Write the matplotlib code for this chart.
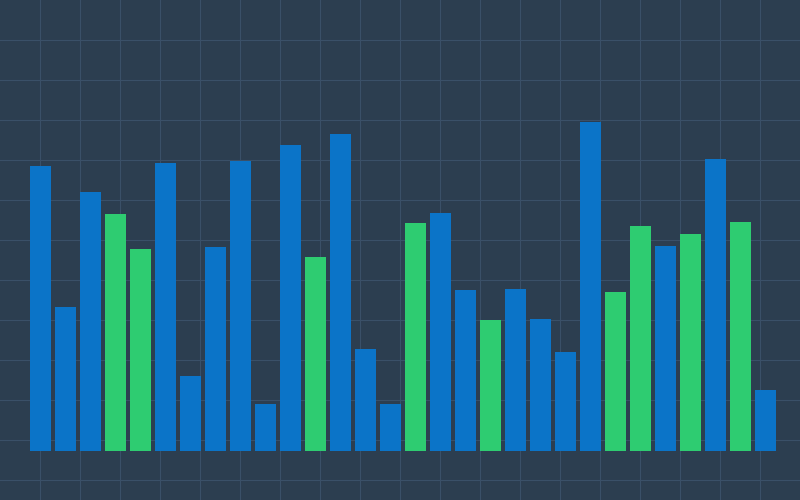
import matplotlib.pyplot as plt
import numpy as np

tops = [166, 307, 192, 214, 249, 163, 376, 247, 161, 404, 145, 257, 134, 349, 404,
        223, 213, 290, 320, 289, 319, 352, 122, 292, 226, 246, 234, 159, 222, 390]
colors = ['b', 'b', 'b', 'g', 'g', 'b', 'b', 'b', 'b', 'b', 'b', 'g', 'b', 'b', 'b',
          'g', 'b', 'b', 'g', 'b', 'b', 'b', 'b', 'g', 'g', 'b', 'g', 'b', 'g', 'b']
values = [451 - t for t in tops]
palette = {'b': '#0b74c8', 'g': '#2ecc71'}

fig = plt.figure(figsize=(8, 5), dpi=100)
fig.patch.set_facecolor('#2c3e50')

# grid layer
g = fig.add_axes([0, 0, 1, 1])
g.set_facecolor('#2c3e50')
g.set_xlim(0, 800)
g.set_ylim(500, 0)
for x in range(40, 800, 40):
    g.axvline(x, color='#3a5068', lw=0.8)
for y in range(40, 500, 40):
    g.axhline(y, color='#3a5068', lw=0.8)
g.axis('off')

ax = fig.add_axes([0, 0, 1, 1])
ax.patch.set_alpha(0)
x = np.arange(len(values))
ax.bar(x, values, width=21 / 25, color=[palette[c] for c in colors])
ax.set_xlim(-40.5 / 25, (800 - 40.5) / 25)
ax.set_ylim(-49, 451)
ax.axis('off')

fig.savefig('out.png', dpi=100, facecolor=fig.get_facecolor())
